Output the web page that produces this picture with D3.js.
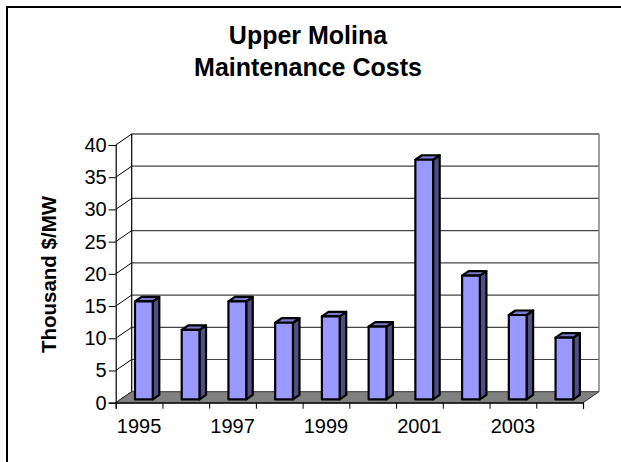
<!DOCTYPE html>
<html>
<head>
<meta charset="utf-8">
<script src="https://cdn.jsdelivr.net/npm/d3@7"></script>
<style>
  body { margin: 0; background: #fff; }
  text { font-family: "Liberation Sans", Arial, sans-serif; fill: #000; }
</style>
</head>
<body>
<div id="chart"></div>
<script>
// data
const years = ["1995", "1996", "1997", "1998", "1999", "2000", "2001", "2002", "2003", "2004"];
const costs = [15.2, 10.8, 15.2, 11.9, 12.9, 11.3, 37.2, 19.2, 13.1, 9.6];
const yTicks = [0, 5, 10, 15, 20, 25, 30, 35, 40];
const labelYears = ["1995", "1997", "1999", "2001", "2003"];
const titleLines = ["Upper Molina", "Maintenance Costs"];
const yTitle = "Thousand $/MW";

const width = 621, height = 462;

// front plane of the plot and the 3D depth offset
const plot = { left: 115.7, right: 583, bottom: 402.7, top: 145 };
const depth = { dx: 16, dy: -11 };

const svg = d3.select("#chart").append("svg")
    .attr("width", width)
    .attr("height", height);

// chart frame (runs off the right and bottom edges)
svg.append("rect")
    .attr("x", 7).attr("y", 7)
    .attr("width", 700).attr("height", 500)
    .attr("fill", "none")
    .attr("stroke", "#000")
    .attr("stroke-width", 2);

// scales
let x = d3.scaleBand()
    .domain(years)
    .range([plot.left, plot.right])
    .paddingInner(0)
    .paddingOuter(0);

let xIdx = d3.scaleLinear()
    .domain([0, years.length])
    .range([plot.left, plot.right]);

let y = d3.scaleLinear()
    .domain([0, 40])
    .range([plot.bottom, plot.top]);

// back wall
let backLeft = plot.left + depth.dx, backRight = plot.right + depth.dx;
svg.append("rect")
    .attr("x", backLeft)
    .attr("y", y(40) + depth.dy)
    .attr("width", backRight - backLeft)
    .attr("height", y(0) - y(40))
    .attr("fill", "#fff");

// gridlines on back wall + left wall diagonals
svg.append("g").selectAll("line.grid")
    .data(yTicks.filter(d => d > 0))
    .join("line")
    .attr("x1", backLeft).attr("x2", backRight)
    .attr("y1", d => y(d) + depth.dy).attr("y2", d => y(d) + depth.dy)
    .attr("stroke", d => d === 40 ? "#000" : "#444")
    .attr("stroke-width", 1.2);

svg.append("g").selectAll("line.diag")
    .data(yTicks)
    .join("line")
    .attr("x1", plot.left).attr("x2", backLeft)
    .attr("y1", d => y(d)).attr("y2", d => y(d) + depth.dy)
    .attr("stroke", "#000")
    .attr("stroke-width", 1);

// wall edges
svg.append("line")
    .attr("x1", backLeft).attr("x2", backLeft)
    .attr("y1", y(0) + depth.dy).attr("y2", y(40) + depth.dy)
    .attr("stroke", "#000").attr("stroke-width", 1.2);
svg.append("line")
    .attr("x1", backRight).attr("x2", backRight)
    .attr("y1", y(0) + depth.dy).attr("y2", y(40) + depth.dy)
    .attr("stroke", "#808080").attr("stroke-width", 1.5);

// floor
let floorPts = [
    [plot.left, y(0)], [plot.right, y(0)],
    [backRight, y(0) + depth.dy], [backLeft, y(0) + depth.dy]
];
svg.append("polygon")
    .attr("points", floorPts.map(p => p.join(",")).join(" "))
    .attr("fill", "#808080")
    .attr("stroke", "#333")
    .attr("stroke-width", 1);

// bars
let z0 = 0.3, z1 = 0.71;
let barW = x.bandwidth() * 0.38;
let bars = svg.append("g").selectAll("g.bar")
    .data(years.map((d, i) => ({ year: d, value: costs[i] })))
    .join("g")
    .attr("class", "bar");

function corners(d) {
    let cx = x(d.year) + x.bandwidth() / 2;
    let fx0 = cx - barW / 2 + depth.dx * z0, fx1 = fx0 + barW;
    let fyT = y(d.value) + depth.dy * z0, fyB = y(0) + depth.dy * z0;
    let ddx = depth.dx * (z1 - z0), ddy = depth.dy * (z1 - z0);
    return { fx0, fx1, fyT, fyB, ddx, ddy };
}

bars.append("polygon")
    .attr("points", d => {
        let c = corners(d);
        return [[c.fx1, c.fyT], [c.fx1 + c.ddx, c.fyT + c.ddy],
                [c.fx1 + c.ddx, c.fyB + c.ddy], [c.fx1, c.fyB]].map(p => p.join(",")).join(" ");
    })
    .attr("fill", "#4f4f85")
    .attr("stroke", "#000").attr("stroke-width", 2.2).attr("stroke-linejoin", "round");

bars.append("polygon")
    .attr("points", d => {
        let c = corners(d);
        return [[c.fx0, c.fyT], [c.fx1, c.fyT], [c.fx1 + c.ddx, c.fyT + c.ddy],
                [c.fx0 + c.ddx, c.fyT + c.ddy]].map(p => p.join(",")).join(" ");
    })
    .attr("fill", "#7a7acc")
    .attr("stroke", "#000").attr("stroke-width", 2.2).attr("stroke-linejoin", "round");

bars.append("rect")
    .attr("x", d => corners(d).fx0)
    .attr("y", d => corners(d).fyT)
    .attr("width", barW)
    .attr("height", d => corners(d).fyB - corners(d).fyT)
    .attr("fill", "#9999ff")
    .attr("stroke", "#000").attr("stroke-width", 2.2).attr("stroke-linejoin", "round");

// y axis on the front plane
let yAxis = d3.axisLeft(y)
    .tickValues(yTicks)
    .tickSize(7)
    .tickPadding(2);

let yG = svg.append("g")
    .attr("class", "y-axis axis")
    .attr("transform", `translate(${plot.left},0)`)
    .call(yAxis);
yG.select(".domain").attr("stroke", "#000").attr("stroke-width", 1.2);
yG.selectAll(".tick line").attr("stroke", "#000");
yG.selectAll(".tick text")
    .style("font-size", "20px")
    .attr("font-family", null);

// x axis: tick marks at category boundaries
let xTickAxis = d3.axisBottom(xIdx)
    .tickValues(d3.range(years.length + 1))
    .tickSize(6)
    .tickFormat("");

let xG = svg.append("g")
    .attr("class", "x-axis axis")
    .attr("transform", `translate(0,${plot.bottom})`)
    .call(xTickAxis);
xG.select(".domain").attr("stroke", "#000").attr("stroke-width", 1.2);
xG.selectAll(".tick line").attr("stroke", "#000");

// x labels at every other category centre
let xLabelAxis = d3.axisBottom(x)
    .tickValues(labelYears)
    .tickSize(0)
    .tickPadding(16);

let xl = svg.append("g")
    .attr("class", "x-labels")
    .attr("transform", `translate(0,${plot.bottom})`)
    .call(xLabelAxis);
xl.select(".domain").remove();
xl.selectAll(".tick text")
    .style("font-size", "20px")
    .attr("font-family", null);

// titles
svg.append("g").selectAll("text.title")
    .data(titleLines)
    .join("text")
    .attr("class", "title")
    .attr("x", 308)
    .attr("y", (d, i) => 44 + i * 32)
    .attr("text-anchor", "middle")
    .style("font-size", "25px")
    .style("font-weight", "bold")
    .text(d => d);

svg.append("text")
    .attr("class", "y-axis-label")
    .attr("transform", "rotate(-90)")
    .attr("x", -274.5)
    .attr("y", 56)
    .attr("text-anchor", "middle")
    .style("font-size", "20.5px")
    .style("font-weight", "bold")
    .text(yTitle);
</script>
</body>
</html>
